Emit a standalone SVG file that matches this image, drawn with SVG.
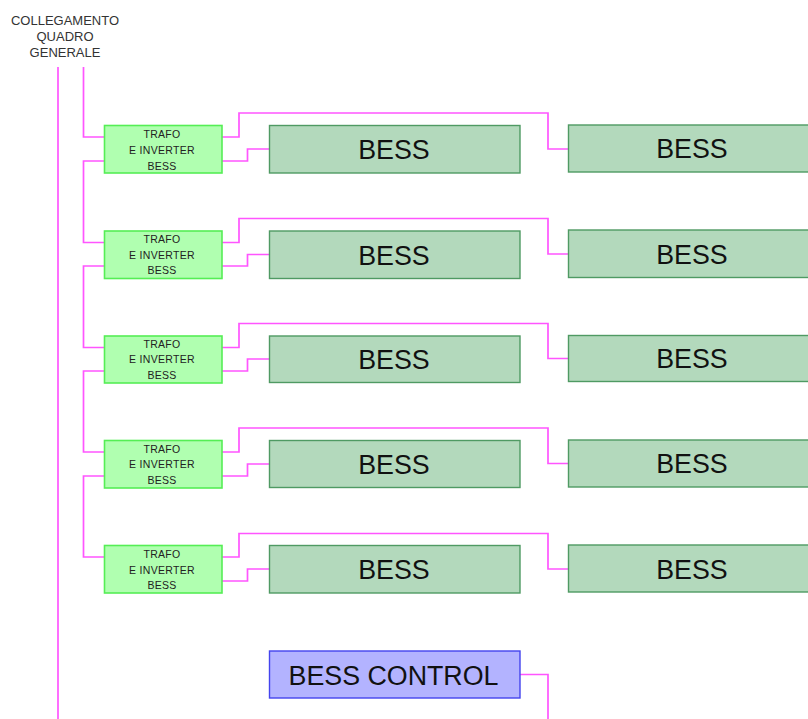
<svg xmlns="http://www.w3.org/2000/svg" width="808" height="719" viewBox="0 0 808 719">
<style>
text{font-family:"Liberation Sans",Arial,sans-serif;text-anchor:middle;fill:#111}
.t{fill:#b0ffb0;stroke:#55ee55;stroke-width:1.6}
.b{fill:#b3d9bc;stroke:#4f9a63;stroke-width:1.4}
.c{fill:#b3b3ff;stroke:#4444ee;stroke-width:1.4}
.l{fill:none;stroke:#ff55ff;stroke-width:1.7}
.s{font-size:10.5px;letter-spacing:.3px;fill:#222}
.h{font-size:13px;fill:#333}
.m{font-size:26.8px}
</style>
<rect width="808" height="719" fill="#fff"/>
<g id="connectors">
<path class="l" d="M58 67V719"/>
<path class="l" d="M83.500 67V137H104.500"/>
<path class="l" d="M104.500 161H83.500V242.500H104.500"/>
<path class="l" d="M104.500 266H83.500V347.500H104.500"/>
<path class="l" d="M104.500 371H83.500V452H104.500"/>
<path class="l" d="M104.500 476H83.500V557H104.500"/>
<path class="l" d="M222 137H239V113H548V149H568.500"/>
<path class="l" d="M222 161H247.500V149H269"/>
<path class="l" d="M222 242.500H239V218.500H548V254H568.500"/>
<path class="l" d="M222 266H247.500V254.500H269"/>
<path class="l" d="M222 347.500H239V323.500H548V358.500H568.500"/>
<path class="l" d="M222 371H247.500V359H269"/>
<path class="l" d="M222 452H239V428H548V463.500H568.500"/>
<path class="l" d="M222 476H247.500V464H269"/>
<path class="l" d="M222 557H239V533.500H548V569H568.500"/>
<path class="l" d="M222 581H247.500V569H269"/>
<path class="l" d="M520 674.500H548V719"/>
</g>
<g id="label-quadro">
<text class="h" x="65" y="24.500">COLLEGAMENTO</text>
<text class="h" x="65" y="40.500">QUADRO</text>
<text class="h" x="65" y="56.500">GENERALE</text>
</g>
<g id="trafo-1"><rect class="t" x="104.500" y="125.500" width="117.500" height="47.500"/><text class="s" x="162" y="138">TRAFO</text><text class="s" x="162" y="154">E INVERTER</text><text class="s" x="162" y="169.500">BESS</text></g>
<g id="trafo-2"><rect class="t" x="104.500" y="231" width="117.500" height="47.500"/><text class="s" x="162" y="243">TRAFO</text><text class="s" x="162" y="259">E INVERTER</text><text class="s" x="162" y="274">BESS</text></g>
<g id="trafo-3"><rect class="t" x="104.500" y="336" width="117.500" height="47"/><text class="s" x="162" y="348">TRAFO</text><text class="s" x="162" y="363">E INVERTER</text><text class="s" x="162" y="379">BESS</text></g>
<g id="trafo-4"><rect class="t" x="104.500" y="440.500" width="117.500" height="47.500"/><text class="s" x="162" y="452.500">TRAFO</text><text class="s" x="162" y="468">E INVERTER</text><text class="s" x="162" y="484">BESS</text></g>
<g id="trafo-5"><rect class="t" x="104.500" y="545.500" width="117.500" height="47.500"/><text class="s" x="162" y="557.500">TRAFO</text><text class="s" x="162" y="573.500">E INVERTER</text><text class="s" x="162" y="589">BESS</text></g>
<g id="bess-1a"><rect class="b" x="269.500" y="125.500" width="250.500" height="47.500"/><text class="m" x="394" y="159">BESS</text></g>
<g id="bess-2a"><rect class="b" x="269.500" y="231" width="250.500" height="47.500"/><text class="m" x="394" y="265">BESS</text></g>
<g id="bess-3a"><rect class="b" x="269.500" y="336" width="250.500" height="46.500"/><text class="m" x="394" y="369">BESS</text></g>
<g id="bess-4a"><rect class="b" x="269.500" y="440.500" width="250.500" height="47"/><text class="m" x="394" y="474">BESS</text></g>
<g id="bess-5a"><rect class="b" x="269.500" y="545.500" width="250.500" height="47.500"/><text class="m" x="394" y="579">BESS</text></g>
<g id="bess-1b"><rect class="b" x="568.500" y="125" width="250" height="47"/><text class="m" x="692" y="158">BESS</text></g>
<g id="bess-2b"><rect class="b" x="568.500" y="230" width="250" height="47.500"/><text class="m" x="692" y="264">BESS</text></g>
<g id="bess-3b"><rect class="b" x="568.500" y="335.500" width="250" height="46"/><text class="m" x="692" y="368">BESS</text></g>
<g id="bess-4b"><rect class="b" x="568.500" y="440" width="250" height="47"/><text class="m" x="692" y="473">BESS</text></g>
<g id="bess-5b"><rect class="b" x="568.500" y="545" width="250" height="47"/><text class="m" x="692" y="579">BESS</text></g>
<g id="bess-control"><rect class="c" x="269.500" y="651" width="250.500" height="47"/><text class="m" x="393.500" y="685">BESS CONTROL</text></g>
</svg>
